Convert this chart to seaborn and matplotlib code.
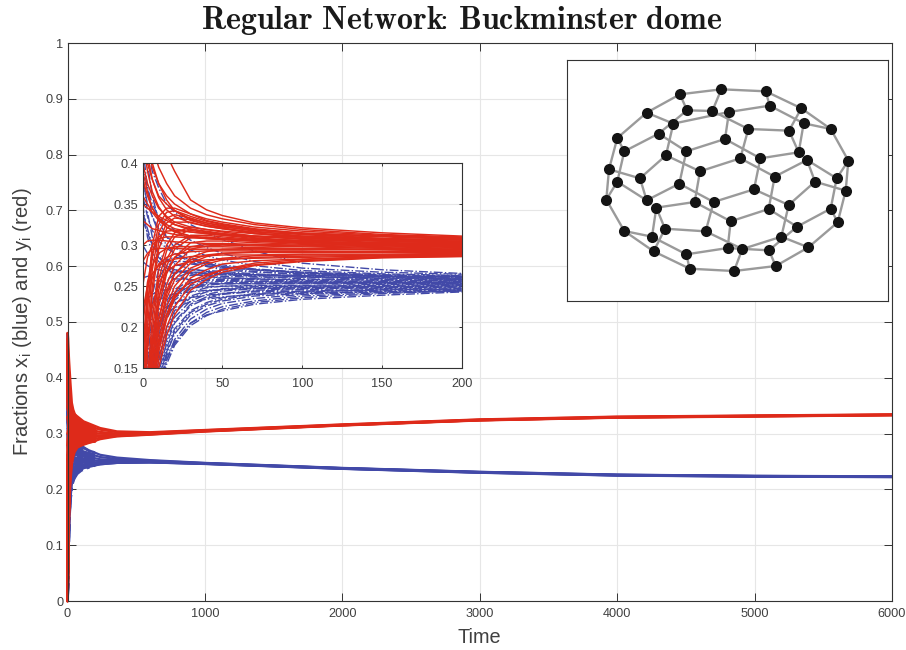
import pandas as pd
import matplotlib
matplotlib.use("Agg")
import matplotlib.pyplot as plt
import seaborn as sns

# early part of the run, one row per agent
t_early = [0, 3, 6, 10, 15, 20, 30, 40, 50, 70, 100, 150, 200]

red_early = [
	[.48, .47, .45, .43, .41, .39, .355, .343, .336, .327, .321, .315, .311],
	[.46, .44, .42, .395, .375, .36, .345, .337, .332, .325, .319, .313, .310],
	[.44, .42, .395, .375, .36, .35, .338, .332, .328, .322, .317, .312, .309],
	[.42, .40, .38, .36, .35, .342, .332, .327, .324, .319, .315, .311, .308],
	[.45, .41, .38, .358, .343, .335, .327, .323, .320, .316, .313, .310, .307],
	[.40, .375, .36, .345, .335, .328, .322, .319, .317, .314, .311, .308, .306],
	[.38, .36, .345, .333, .325, .32, .316, .314, .312, .31, .308, .306, .305],
	[.12, .24, .30, .335, .345, .345, .338, .33, .326, .32, .314, .308, .304],
	[.08, .20, .27, .315, .333, .337, .333, .327, .323, .317, .311, .306, .303],
	[.05, .17, .24, .295, .32, .328, .328, .323, .32, .314, .309, .305, .302],
	[.03, .14, .21, .27, .30, .315, .322, .319, .316, .311, .307, .303, .301],
	[.15, .25, .29, .31, .317, .318, .316, .314, .312, .308, .305, .302, .300],
	[.02, .11, .18, .245, .283, .30, .312, .312, .31, .307, .304, .301, .299],
	[.25, .285, .30, .308, .31, .31, .309, .308, .307, .305, .303, .300, .298],
	[.01, .09, .16, .225, .265, .285, .303, .305, .305, .303, .301, .299, .297],
	[.30, .305, .306, .306, .305, .304, .303, .302, .302, .301, .30, .298, .296],
	[.04, .12, .18, .235, .268, .285, .298, .301, .301, .30, .299, .297, .295],
	[.20, .255, .275, .29, .296, .298, .298, .298, .298, .297, .296, .295, .294],
	[.01, .08, .14, .20, .24, .265, .285, .292, .295, .296, .295, .294, .293],
	[.18, .235, .26, .277, .285, .289, .292, .293, .293, .293, .293, .292, .292],
	[.03, .10, .16, .21, .245, .265, .282, .288, .29, .291, .291, .291, .291],
	[.22, .25, .265, .275, .28, .283, .286, .287, .288, .288, .289, .289, .290],
	[.0, .07, .13, .185, .225, .25, .272, .28, .284, .287, .288, .288, .289],
	[.10, .18, .225, .255, .268, .275, .28, .282, .283, .284, .285, .287, .288],
	[.0, .06, .12, .17, .21, .235, .26, .27, .277, .281, .283, .286, .287],
	[.02, .08, .13, .18, .215, .238, .256, .264, .27, .276, .281, .285, .2865],
	[.0, .05, .10, .15, .19, .215, .245, .258, .267, .275, .28, .2845, .286],
	[.35, .345, .34, .335, .33, .325, .32, .316, .314, .311, .308, .305, .303],
	[.33, .325, .32, .318, .315, .313, .31, .308, .307, .306, .304, .303, .302],
	[.28, .29, .295, .296, .296, .296, .295, .295, .295, .295, .295, .295, .2945],
	[.47, .43, .40, .375, .355, .342, .33, .325, .322, .318, .314, .311, .3085],
	[.43, .39, .365, .347, .333, .325, .318, .315, .313, .311, .31, .308, .3065],
	[.39, .365, .345, .332, .322, .316, .311, .309, .308, .307, .306, .305, .3045],
	[.36, .35, .34, .33, .322, .317, .311, .308, .307, .305, .304, .302, .3005],
	[.10, .22, .285, .325, .34, .342, .335, .329, .325, .319, .313, .307, .3035],
	[.06, .18, .25, .303, .327, .333, .331, .325, .321, .315, .31, .305, .3025],
	[.02, .12, .195, .258, .293, .31, .319, .317, .314, .309, .305, .301, .2995],
	[.01, .10, .17, .235, .275, .295, .309, .31, .308, .305, .302, .2995, .2975],
	[.0, .085, .15, .21, .252, .275, .295, .299, .30, .299, .298, .296, .2945],
	[.01, .075, .135, .195, .235, .258, .278, .286, .29, .292, .292, .2915, .2915],
	[.0, .065, .125, .175, .215, .242, .268, .277, .282, .285, .2865, .2875, .2885],
	[.01, .055, .11, .16, .20, .225, .252, .262, .27, .278, .2825, .2855, .2875],
]

blue_early = [
	[.45, .42, .39, .37, .35, .34, .325, .315, .307, .293, .278, .27, .2655],
	[.40, .37, .35, .335, .325, .318, .306, .297, .29, .28, .272, .267, .2645],
	[.38, .35, .335, .32, .31, .303, .294, .287, .282, .275, .269, .265, .263],
	[.36, .335, .318, .305, .296, .29, .282, .277, .273, .27, .266, .263, .262],
	[.33, .315, .30, .29, .282, .277, .271, .268, .266, .264, .263, .262, .261],
	[.30, .29, .283, .277, .272, .269, .265, .263, .262, .261, .261, .26, .26],
	[.10, .19, .24, .27, .282, .285, .283, .279, .276, .271, .267, .263, .259],
	[.07, .16, .215, .25, .268, .275, .277, .275, .272, .268, .264, .261, .258],
	[.05, .14, .195, .235, .256, .265, .27, .269, .268, .265, .262, .259, .257],
	[.03, .12, .175, .22, .243, .255, .263, .265, .264, .262, .259, .257, .256],
	[.02, .10, .16, .205, .232, .246, .257, .26, .26, .259, .257, .256, .2555],
	[.26, .262, .262, .262, .26, .259, .258, .257, .257, .256, .255, .255, .255],
	[.01, .09, .145, .19, .222, .238, .251, .255, .256, .256, .255, .2545, .254],
	[.04, .10, .15, .195, .222, .236, .248, .252, .253, .253, .253, .253, .2535],
	[.0, .07, .125, .175, .21, .228, .243, .248, .25, .251, .251, .252, .2525],
	[.22, .235, .24, .244, .246, .247, .248, .249, .25, .25, .25, .251, .252],
	[.02, .07, .12, .165, .2, .22, .238, .244, .247, .249, .25, .25, .251],
	[.0, .055, .105, .155, .19, .212, .232, .24, .244, .247, .248, .249, .25],
	[.18, .21, .225, .233, .238, .241, .243, .245, .246, .247, .248, .248, .249],
	[.01, .05, .095, .145, .18, .205, .226, .235, .24, .244, .246, .247, .248],
	[.0, .045, .09, .14, .175, .198, .22, .23, .236, .241, .244, .246, .247],
	[.14, .18, .2, .215, .225, .23, .236, .239, .241, .243, .244, .245, .246],
	[.0, .04, .08, .13, .168, .192, .215, .226, .232, .238, .241, .244, .245],
	[.02, .045, .08, .125, .16, .185, .21, .222, .229, .235, .24, .243, .2445],
	[.0, .03, .07, .12, .165, .182, .205, .215, .22, .228, .234, .239, .243],
	[.12, .16, .185, .205, .217, .224, .231, .234, .237, .24, .242, .243, .2435],
	[.0, .035, .075, .125, .16, .18, .205, .218, .225, .232, .238, .242, .244],
	[.35, .31, .29, .28, .273, .27, .267, .266, .265, .264, .263, .262, .2615],
	[.28, .275, .272, .27, .268, .267, .266, .265, .264, .263, .262, .26, .258],
	[.06, .13, .175, .21, .23, .24, .25, .253, .254, .255, .255, .2545, .253],
	[.42, .37, .335, .315, .30, .29, .279, .274, .27, .267, .265, .2625, .2605],
	[.48, .40, .36, .33, .31, .297, .285, .278, .274, .27, .267, .264, .2625],
	[.34, .32, .30, .285, .275, .27, .265, .262, .26, .259, .258, .2575, .2575],
	[.39, .34, .31, .288, .272, .264, .257, .254, .253, .253, .2535, .254, .2545],
	[.085, .175, .228, .26, .275, .28, .28, .277, .274, .27, .266, .262, .2585],
	[.04, .13, .185, .228, .25, .26, .267, .267, .266, .264, .261, .258, .2565],
	[.015, .095, .15, .198, .227, .242, .254, .258, .258, .258, .256, .255, .2545],
	[.0, .08, .135, .183, .215, .233, .247, .251, .253, .254, .254, .2535, .2535],
	[.01, .06, .11, .16, .195, .217, .236, .243, .246, .248, .249, .2495, .2505],
	[.0, .05, .10, .15, .185, .207, .228, .237, .241, .245, .247, .248, .249],
	[.01, .04, .085, .135, .17, .195, .218, .228, .234, .24, .243, .2455, .2465],
	[.0, .035, .075, .12, .155, .178, .202, .214, .222, .23, .236, .241, .2445],
]

# long part of the run
t_late = [56, 117, 238, 360, 600, 1000, 2000, 3000, 4000, 5000, 6000]

red_late = [
	[.334, .322, .31, .304, .3025, .3065, .3165, .3255, .3305, .3325, .3345],
	[.327, .316, .307, .3025, .3015, .306, .316, .325, .33, .332, .334],
	[.318, .31, .303, .300, .3005, .3055, .3155, .3245, .3295, .3318, .3338],
	[.31, .304, .30, .2985, .300, .305, .3155, .3245, .3293, .3316, .3336],
	[.30, .298, .297, .2975, .2995, .3047, .315, .324, .329, .3314, .3334],
	[.29, .292, .295, .2965, .299, .3043, .315, .324, .329, .331, .3332],
	[.282, .287, .2925, .2955, .2985, .304, .3148, .3238, .3288, .3308, .333],
	[.274, .28, .29, .295, .298, .3037, .3145, .3235, .3285, .3305, .3328],
]

blue_late = [
	[.277, .274, .262, .257, .2525, .2475, .2385, .2315, .2265, .2243, .2235],
	[.27, .267, .258, .2545, .2515, .2472, .2382, .2313, .2263, .2241, .2233],
	[.262, .26, .254, .252, .2505, .2468, .238, .231, .226, .224, .223],
	[.254, .254, .251, .2505, .2498, .2465, .2378, .2308, .2258, .2238, .2228],
	[.246, .248, .249, .2495, .2492, .2462, .2375, .2305, .2255, .2235, .2226],
	[.238, .243, .247, .248, .2487, .246, .2372, .2303, .2252, .2233, .2224],
	[.232, .24, .245, .2475, .2482, .2458, .237, .23, .225, .223, .2222],
	[.227, .238, .245, .2475, .2485, .2455, .2368, .2298, .2248, .2228, .222],
]

# network drawing, node positions
node_x = [360, 484, 617, 724, 812, 865, 857, 833, 745, 647, 522, 389, 281, 193, 139,
	147, 172, 260, 381, 457, 507, 629, 731, 687, 565, 340, 296, 193, 172, 260,
	289, 315, 276, 379, 503, 547, 627, 664, 711, 812, 830, 741, 716, 601, 495,
	379, 318, 240, 358, 404, 461, 512, 437, 626, 686, 765, 644, 582, 541, 420]
node_y = [118, 103, 109, 160, 222, 317, 407, 502, 577, 633, 648, 641, 589, 528, 434,
	343, 249, 173, 166, 168, 171, 152, 205, 227, 222, 206, 236, 289, 380, 436,
	458, 521, 545, 598, 579, 582, 586, 545, 515, 461, 370, 315, 292, 310, 252,
	289, 301, 370, 386, 441, 441, 499, 529, 462, 450, 380, 365, 403, 310, 349]
edges = [(0, 1), (1, 2), (2, 3), (3, 4), (4, 5), (5, 6), (6, 7), (7, 8), (8, 9), (9, 10),
	(10, 11), (11, 12), (12, 13), (13, 14), (14, 15), (15, 16), (16, 17), (17, 0),
	(0, 18), (1, 19), (2, 21), (3, 23), (4, 22), (5, 40), (6, 55), (7, 39), (8, 37),
	(9, 36), (10, 35), (11, 33), (12, 31), (13, 32), (14, 28), (15, 47), (16, 27),
	(17, 25), (18, 19), (18, 26), (19, 24), (20, 25), (20, 21), (20, 44), (21, 22),
	(22, 42), (23, 24), (23, 42), (24, 58), (25, 46), (26, 27), (26, 45), (27, 28),
	(28, 29), (29, 47), (29, 48), (30, 49), (30, 31), (30, 32), (31, 52), (32, 33),
	(33, 34), (34, 51), (34, 36), (35, 37), (35, 52), (36, 38), (37, 54), (38, 39),
	(38, 53), (39, 40), (40, 41), (41, 55), (41, 56), (42, 43), (43, 44), (43, 57),
	(44, 45), (45, 48), (46, 47), (46, 59), (48, 50), (49, 59), (49, 51), (50, 52),
	(50, 57), (51, 53), (53, 56), (54, 57), (54, 55), (56, 58), (58, 59)]

main_xticks = [0, 1000, 2000, 3000, 4000, 5000, 6000]
main_yticks = [0, .1, .2, .3, .4, .5, .6, .7, .8, .9, 1]
main_ylabels = ['0', '0.1', '0.2', '0.3', '0.4', '0.5', '0.6', '0.7', '0.8', '0.9', '1']
inset_xticks = [0, 50, 100, 150, 200]
inset_yticks = [.15, .2, .25, .3, .35, .4]
inset_ylabels = ['0.15', '0.2', '0.25', '0.3', '0.35', '0.4']

RED = '#DE2A1A'
BLUE = '#4249A8'
DARK = '#333333'
W, H = 906, 650


def to_long(times, rows):
	"""One row per point, curve number in column 'curve'"""
	out = []
	for i, row in enumerate(rows):
		out.append(pd.DataFrame({'t': times, 'v': row, 'curve': i}))
	return pd.concat(out, ignore_index=True)


def draw_curves(ax, df, color, style='-', lw=1.0, clip=True):
	sns.lineplot(data=df, x='t', y='v', units='curve', estimator=None, sort=False,
		color=color, linestyle=style, linewidth=lw, legend=False, clip_on=clip, ax=ax)


def style_axes(ax, ticklen, xpad):
	ax.grid(True, color='#e6e6e6', linewidth=0.8)
	ax.set_axisbelow(True)
	ax.tick_params(direction='in', length=ticklen, width=0.7, color=DARK, labelcolor='#404040',
		labelsize=9.2, top=True, right=True, bottom=True, left=True, pad=3)
	ax.tick_params(axis='x', pad=xpad)
	for s in ax.spines.values():
		s.set_visible(True)
		s.set_color(DARK)
		s.set_linewidth(0.8)
	ax.set_xlabel('')
	ax.set_ylabel('')


def axes_at(fig, left, top, right, bottom):
	return fig.add_axes([left / W, 1 - bottom / H, (right - left) / W, (bottom - top) / H])


sns.set_theme(style='whitegrid')
plt.rcParams['font.family'] = ['Liberation Sans', 'DejaVu Sans']
plt.rcParams['mathtext.fontset'] = 'custom'
plt.rcParams['mathtext.rm'] = 'Liberation Sans'
plt.rcParams['mathtext.default'] = 'regular'

fig = plt.figure(figsize=(W / 100, H / 100), dpi=100)
fig.patch.set_facecolor('white')

red_df = to_long(t_early, red_early)
blue_df = to_long(t_early, blue_early)

# main panel
ax = axes_at(fig, 67.5, 43, 892, 601)
draw_curves(ax, blue_df, BLUE, '-.', 2.0, clip=False)
draw_curves(ax, to_long(t_late, blue_late), BLUE, '-', 1.6)
draw_curves(ax, red_df, RED, '-', 2.0, clip=False)
draw_curves(ax, to_long(t_late, red_late), RED, '-', 1.6)
style_axes(ax, 6, 5)
ax.set_xlim(0, 6000)
ax.set_ylim(0, 1)
ax.set_xticks(main_xticks)
ax.set_yticks(main_yticks)
ax.set_yticklabels(main_ylabels)
ax.set_xlabel('Time', fontsize=14.3, color='#404040', labelpad=6)
ax.set_ylabel(r'Fractions x$_{i}$ (blue) and y$_{i}$ (red)', fontsize=14.6, color='#404040', labelpad=8)

fig.text(461.5 / W, 1 - 20.5 / H, r'$\mathbf{Regular\ Network\!\!:\!\ Buckminster\ dome}$',
	fontsize=23, color='#1a1a1a', ha='center', va='center', math_fontfamily='cm')

# zoomed panel
ins = axes_at(fig, 142.7, 163, 461.7, 368.3)
ins.set_facecolor('white')
draw_curves(ins, blue_df, BLUE, '-.', 1.0)
draw_curves(ins, red_df, RED, '-', 1.05)
style_axes(ins, 2.4, 7)
ins.set_xlim(0, 200)
ins.set_ylim(.15, .4)
ins.set_xticks(inset_xticks)
ins.set_yticks(inset_yticks)
ins.set_yticklabels(inset_ylabels)

# network panel
net = axes_at(fig, 567.3, 60.3, 887.7, 300.7)
net.set_facecolor('white')
edge_df = pd.DataFrame({
	'x': [node_x[k] for e in edges for k in e],
	'y': [node_y[k] for e in edges for k in e],
	'edge': [i for i, e in enumerate(edges) for k in e],
})
sns.lineplot(data=edge_df, x='x', y='y', units='edge', estimator=None, sort=False,
	color='#9a9a9a', linewidth=1.7, legend=False, ax=net)
sns.scatterplot(x=node_x, y=node_y, s=64, color='#141414', linewidth=0, zorder=3, ax=net)
net.set_xlim(22, 983)
net.set_ylim(737, 16)
net.grid(False)
net.set_xticks([])
net.set_yticks([])
net.set_xlabel('')
net.set_ylabel('')
for s in net.spines.values():
	s.set_visible(True)
	s.set_color(DARK)
	s.set_linewidth(0.8)

fig.savefig('out.png', dpi=100, facecolor='white')
plt.close(fig)
